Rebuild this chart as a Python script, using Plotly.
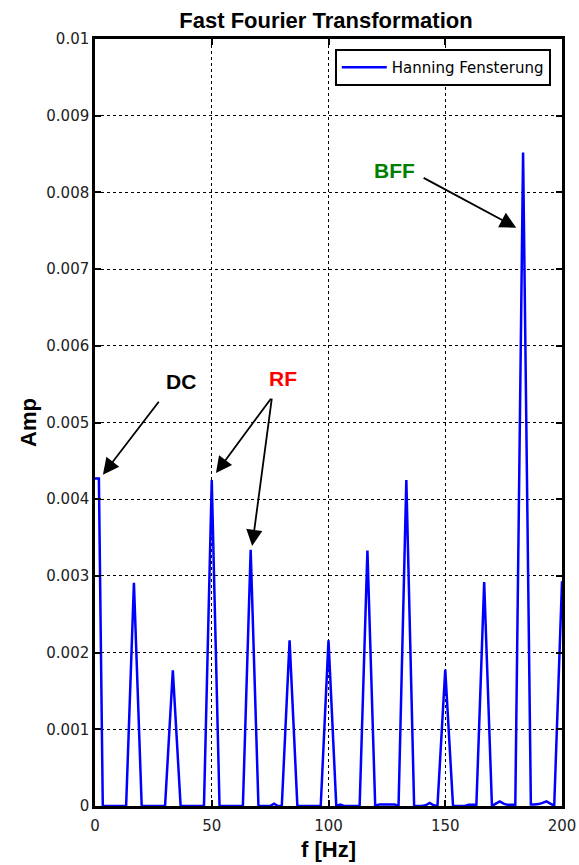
import plotly.graph_objects as go

# Frequency bins (fs/N = 5/3 Hz), 0 .. 200 Hz
n_bins = 121
freq = [i * 5.0 / 3.0 for i in range(n_bins)]

# Amplitude spectrum (Hanning window), values in units of 1e-3
amp_e3 = [
    4.27, 4.27, 0, 0, 0, 0, 0, 0, 0, 1.455,          # 0-9
    2.91, 1.455, 0, 0, 0, 0, 0, 0, 0, 0.885,         # 10-19
    1.77, 0.885, 0, 0, 0, 0, 0, 0, 0, 2.125,         # 20-29
    4.25, 2.125, 0, 0, 0, 0, 0, 0, 0, 1.67,          # 30-39
    3.34, 1.67, 0, 0, 0, 0, 0.03, 0, 0, 1.08,        # 40-49
    2.16, 1.08, 0, 0, 0, 0, 0, 0, 0, 1.08,           # 50-59
    2.16, 1.08, 0, 0.02, 0, 0, 0, 0, 0, 1.665,       # 60-69
    3.33, 1.665, 0, 0.02, 0.02, 0.02, 0.02, 0.02, 0, 2.125,   # 70-79
    4.25, 2.125, 0, 0, 0, 0.01, 0.04, 0.01, 0, 0.89, # 80-89
    1.78, 0.89, 0, 0, 0, 0, 0.015, 0.015, 0.015, 1.46,  # 90-99
    2.92, 1.46, 0, 0.03, 0.06, 0.03, 0.015, 0.015, 0.015, 4.26,  # 100-109
    8.52, 4.26, 0.02, 0.02, 0.025, 0.04, 0.06, 0.03, 0.005, 1.465,  # 110-119
    2.93,                                             # 120
]
amp = [v * 1e-3 for v in amp_e3]

y_ticks = [0, 0.001, 0.002, 0.003, 0.004, 0.005, 0.006, 0.007, 0.008, 0.009, 0.01]
y_ticktext = ["0", "0.001", "0.002", "0.003", "0.004", "0.005", "0.006",
              "0.007", "0.008", "0.009", "0.01"]
x_ticks = [0, 50, 100, 150, 200]
x_ticktext = ["0", "50", "100", "150", "200"]

fig = go.Figure()
fig.add_trace(go.Scatter(
    x=freq, y=amp, mode="lines",
    line=dict(color="#0000FF", width=2.5),
    name="Hanning Fensterung",
))

axis_common = dict(
    showline=True, linecolor="black", linewidth=2.5, mirror="ticks",
    ticks="inside", ticklen=6, tickwidth=1.5, tickcolor="black",
    showgrid=True, gridcolor="black", gridwidth=1, griddash="dot",
    zeroline=False, automargin=False,
    tickfont=dict(family="DejaVu Sans", size=15, color="#222222"),
)

title_font = dict(family="Liberation Sans, Arial", size=22, color="black")

fig.update_xaxes(range=[0, 200], tickvals=x_ticks, ticktext=x_ticktext,
                 ticklabelstandoff=4,
                 title=dict(text="<b>f [Hz]</b>", font=title_font, standoff=8),
                 **axis_common)
fig.update_yaxes(range=[0, 0.01], tickvals=y_ticks, ticktext=y_ticktext,
                 title=dict(text="<b>Amp</b>", font=title_font, standoff=4),
                 **axis_common)

bold = dict(family="Liberation Sans, Arial", size=21)

# Labels
fig.add_annotation(x=36.8, y=0.00553, text="<b>DC</b>", showarrow=False, font=dict(color="black", **bold))
fig.add_annotation(x=80.5, y=0.00557, text="<b>RF</b>", showarrow=False, font=dict(color="#FF0000", **bold))
fig.add_annotation(x=128.1, y=0.00829, text="<b>BFF</b>", showarrow=False, font=dict(color="#008000", **bold))

arrow_style = dict(showarrow=True, arrowhead=2, arrowsize=1.8, arrowwidth=1.8, arrowcolor="black",
                   axref="x", ayref="y", text="", standoff=0, startstandoff=0)
fig.add_annotation(x=3.4, y=0.00432, ax=27.8, ay=0.00529, **arrow_style)
fig.add_annotation(x=51.8, y=0.00434, ax=75.8, ay=0.00533, **arrow_style)
fig.add_annotation(x=67.3, y=0.00339, ax=75.8, ay=0.00533, **arrow_style)
fig.add_annotation(x=180.4, y=0.00754, ax=140.1, ay=0.0082, **arrow_style)

fig.update_layout(
    width=579, height=865,
    margin=dict(l=95, r=17, t=39, b=59),
    paper_bgcolor="white", plot_bgcolor="white",
    title=dict(text="<b>Fast Fourier Transformation</b>", x=0.563, xanchor="center",
               y=0.9765, yanchor="middle",
               font=dict(family="Liberation Sans, Arial", size=22, color="black")),
    showlegend=True,
    legend=dict(x=0.976, y=0.987, xanchor="right", yanchor="top",
                bgcolor="white", bordercolor="black", borderwidth=2,
                itemwidth=45,
                font=dict(family="DejaVu Sans", size=15, color="black")),
)

fig.write_html("out.html")
